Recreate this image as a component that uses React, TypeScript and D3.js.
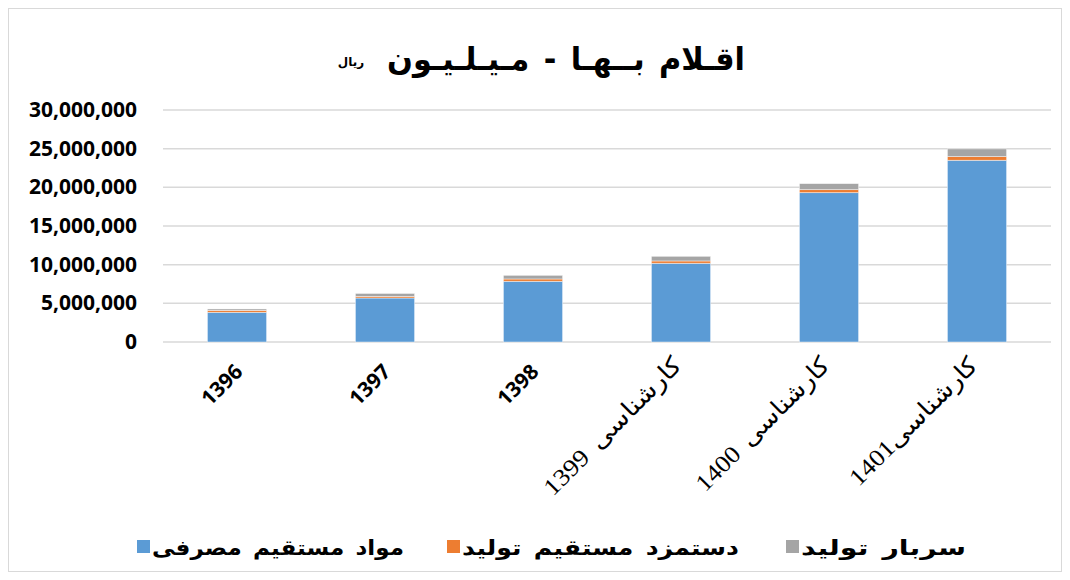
import * as d3 from "d3";

const years = ["1396", "1397", "1398", "کارشناسی 1399", "کارشناسی 1400", "کارشناسی1401"];
const materials = [3840000, 5690000, 7850000, 10180000, 19310000, 23500000];
const labour = [250000, 200000, 300000, 300000, 390000, 470000];
const overhead = [180000, 390000, 470000, 600000, 780000, 1000000];
const yTicks = [0, 5000000, 10000000, 15000000, 20000000, 25000000, 30000000];

const seriesNames = ["مواد مستقیم مصرفی", "دستمزد مستقیم تولید", "سربار تولید"];
const colors = ["#5B9BD5", "#ED7D31", "#A5A5A5"];

const W = 1070,
  H = 580;
const margin = { top: 110, right: 19, bottom: 238, left: 163 };

const labelLen = [0, 0, 0, 184, 178, 170];
const legendX = [137, 447, 786];
const legendLen = [252, 277, 165];

export default function App() {
  const x = d3
    .scaleBand()
    .domain(years)
    .range([margin.left, W - margin.right])
    .paddingInner(0.6)
    .paddingOuter(0.3);
  const y = d3
    .scaleLinear()
    .domain([0, 30000000])
    .range([H - margin.bottom, margin.top]);

  const rows = years.map((yr, i) => ({ yr, m: materials[i], l: labour[i], o: overhead[i] }));
  const stack = d3.stack<any>().keys(["m", "l", "o"])(rows);
  const fmt = d3.format(",");

  return (
    <svg width={W} height={H} style={{ position: "absolute", left: 0, top: 0, background: "#fff" }}>
      <rect x={8.5} y={8.5} width={1053} height={563} fill="#fff" stroke="#D9D9D9" strokeWidth={1} />

      {/* title */}
      <text
        x={745}
        y={70}
        textAnchor="end"
        fontFamily="'DejaVu Sans', sans-serif"
        fontWeight="bold"
        fontSize={32}
        wordSpacing={4}
        textLength={358}
        lengthAdjust="spacingAndGlyphs"
        fill="#000"
      >
        اقـلام بــهـا - مـیـلـیـون
      </text>
      <text x={351} y={66} textAnchor="middle" fontFamily="'DejaVu Sans', sans-serif" fontWeight="bold" fontSize={12} fill="#000">
        ریال
      </text>

      {/* gridlines */}
      {yTicks.map((t) => (
        <line key={t} x1={margin.left} x2={W - margin.right} y1={y(t)} y2={y(t)} stroke="#D9D9D9" strokeWidth={1.5} />
      ))}
      {yTicks.map((t) => (
        <text
          key={"l" + t}
          x={137}
          y={y(t) + 7}
          textAnchor="end"
          fontFamily="'Open Sans', sans-serif"
          fontWeight="bold"
          fontSize={21}
          fill="#000"
        >
          {fmt(t)}
        </text>
      ))}

      {/* bars */}
      {stack.map((s, si) =>
        s.map((d, i) => (
          <rect
            key={si + "-" + i}
            x={x(years[i])}
            width={x.bandwidth()}
            y={y(d[1])}
            height={y(d[0]) - y(d[1])}
            fill={colors[si]}
            stroke="#fff"
            strokeOpacity={0.6}
            strokeWidth={0.75}
          />
        ))
      )}

      {/* x labels */}
      {years.map((yr, i) => {
        const plain = i < 3;
        const cx = (x(yr) as number) + x.bandwidth() / 2 + (plain ? 7 : 2);
        const cy = plain ? 373 : 367;
        return plain ? (
          <text
            key={yr}
            transform={`translate(${cx},${cy}) rotate(-45)`}
            textAnchor="end"
            fontFamily="'Open Sans', sans-serif"
            fontWeight="bold"
            fontSize={21}
            fill="#000"
          >
            {yr}
          </text>
        ) : (
          <text
            key={yr}
            transform={`translate(${cx},${cy}) rotate(-45)`}
            textAnchor="end"
            fontFamily="'Liberation Serif', 'DejaVu Sans', serif"
            fontSize={24}
            wordSpacing={4}
            textLength={labelLen[i]}
            lengthAdjust="spacingAndGlyphs"
            fill="#000"
          >
            {yr}
          </text>
        );
      })}

      {/* legend */}
      {seriesNames.map((n, i) => (
        <g key={n}>
          <rect x={legendX[i]} y={540} width={13} height={13} fill={colors[i]} />
          <text
            x={legendX[i] + 15}
            y={555}
            fontFamily="'DejaVu Sans', sans-serif"
            fontWeight="bold"
            fontSize={21}
            wordSpacing={3}
            textLength={legendLen[i]}
            lengthAdjust="spacingAndGlyphs"
            fill="#000"
          >
            {n}
          </text>
        </g>
      ))}
    </svg>
  );
}
